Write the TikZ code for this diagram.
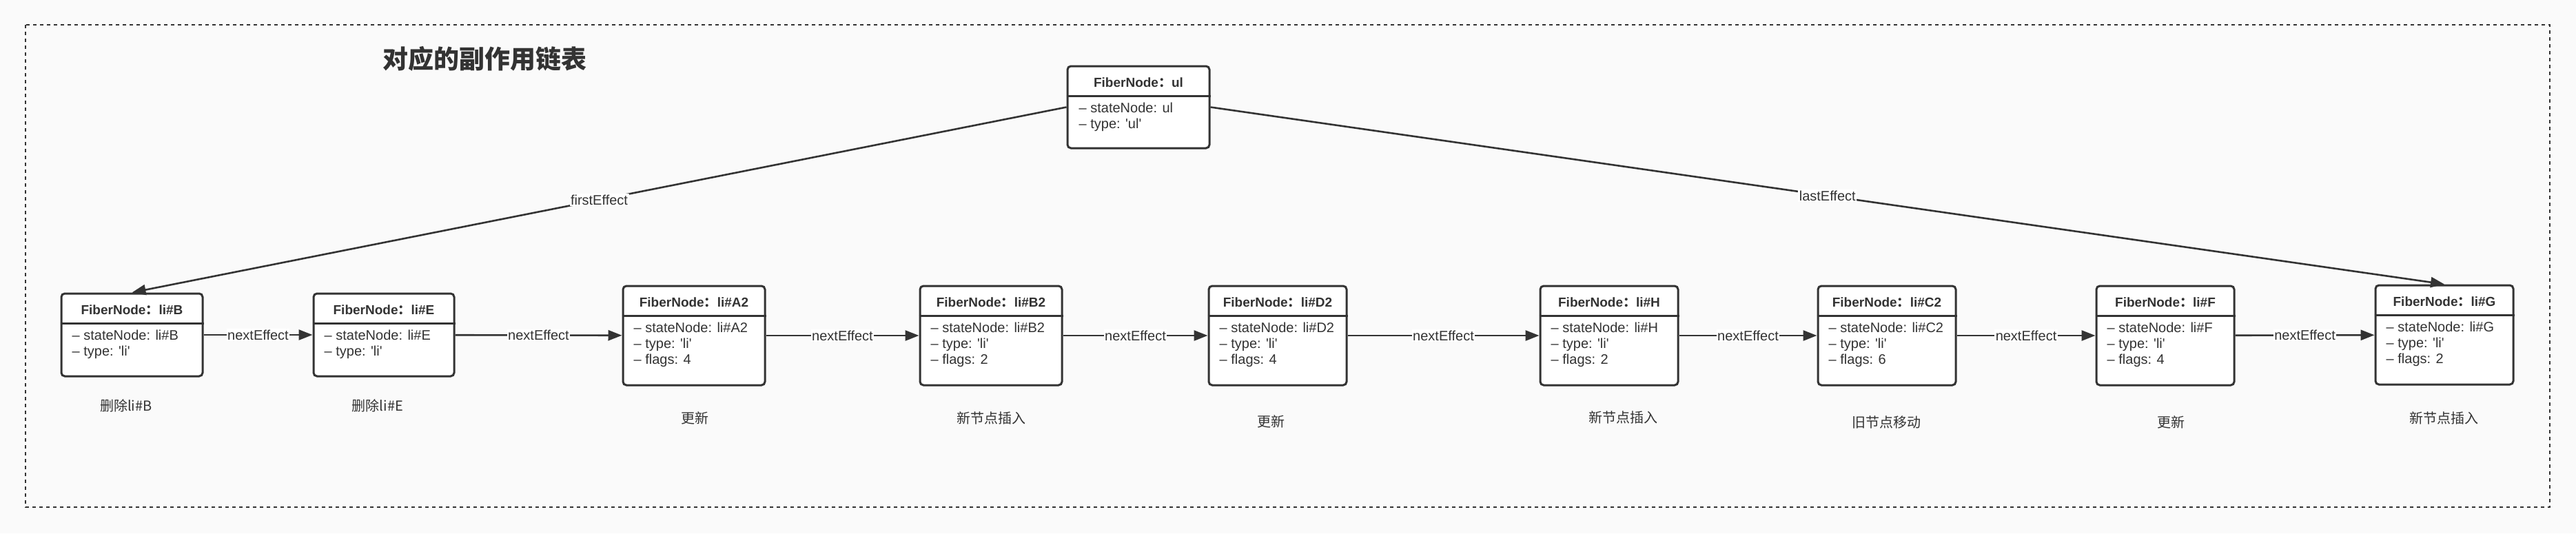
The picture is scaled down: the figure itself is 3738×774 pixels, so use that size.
\documentclass[tikz,border=0pt]{standalone}
\usepackage{fontspec}
\setmainfont{Liberation Sans}
\newfontfamily\cjk{Noto Sans CJK SC}
\usetikzlibrary{arrows.meta}
\definecolor{ink}{HTML}{333333}
\definecolor{paper}{HTML}{FAFAFA}
\def\q{\textquotesingle}

\begin{document}
\begin{tikzpicture}[x=1pt,y=-1pt,
	fiber/.style={draw=ink,line width=3pt,rounded corners=5pt,fill=white,inner sep=0pt},
	head/.style={text=ink,inner sep=0pt,font=\bfseries\fontsize{19}{23}\selectfont},
	fields/.style={text=ink,inner sep=0pt,align=left,font=\fontsize{20}{23}\selectfont},
	link/.style={draw=ink,line width=2.6pt,-{Triangle[length=20pt,width=15pt]}},
	tag/.style={fill=white,inner sep=1.5pt,text=ink,font=\fontsize{20}{24}\selectfont},
	note/.style={text=ink,inner sep=0pt,font=\cjk\fontsize{20}{24}\selectfont}]
\useasboundingbox (0,0) rectangle (3738,774);
\fill[paper] (0,0) rectangle (3738,774);
\draw[ink,line width=1.6pt,dash pattern=on 5pt off 5pt] (37,36) rectangle (3700,736);
\node[text=ink,font=\cjk\bfseries\fontsize{37}{40}\selectfont] (title) at (703,85) {对应的副作用链表};

% root fiber
\node[fiber,minimum width=206pt,minimum height=119pt] (ul) at (1652,155.5) {};
\draw[ink,line width=3pt] ([yshift=-45pt]ul.north west) -- ([yshift=-45pt]ul.north east);
\node[head,anchor=base] at ([yshift=-32pt]ul.north) {FiberNode{\cjk ：}ul};
\node[fields,anchor=north west] at ([xshift=18pt,yshift=-54pt]ul.north west)
	{– stateNode: ul\\– type: \q ul\q};

% effect list
\foreach \id/\cx/\cy/\w/\h/\ttl/\body in {
	liB/191.5/486/205/120/li\#B/{– stateNode: li\#B\\– type: \q li\q},
	liE/557/486/204/120/li\#E/{– stateNode: li\#E\\– type: \q li\q},
	liA2/1007/487/206/144/li\#A2/{– stateNode: li\#A2\\– type: \q li\q\\– flags: 4},
	liB2/1438/487/206/144/li\#B2/{– stateNode: li\#B2\\– type: \q li\q\\– flags: 2},
	liD2/1854/487/200/144/li\#D2/{– stateNode: li\#D2\\– type: \q li\q\\– flags: 4},
	liH/2335/487/200/144/li\#H/{– stateNode: li\#H\\– type: \q li\q\\– flags: 2},
	liC2/2738/487/200/144/li\#C2/{– stateNode: li\#C2\\– type: \q li\q\\– flags: 6},
	liF/3142/487/200/144/li\#F/{– stateNode: li\#F\\– type: \q li\q\\– flags: 4},
	liG/3547/486/200/144/li\#G/{– stateNode: li\#G\\– type: \q li\q\\– flags: 2}}{
	\node[fiber,minimum width=\w pt,minimum height=\h pt] (\id) at (\cx,\cy) {};
	\draw[ink,line width=3pt] ([yshift=-45pt]\id.north west) -- ([yshift=-45pt]\id.north east);
	\node[head,anchor=base] at ([yshift=-32pt]\id.north) {FiberNode{\cjk ：}\ttl};
	\node[fields,anchor=north west] at ([xshift=17pt,yshift=-54pt]\id.north west) {\body};
}

\foreach \id/\x/\y/\txt in {liB/183/589/删除li\#B,liE/548/589/删除li\#E,
	liA2/1008/607/更新,liB2/1438/607/新节点插入,liD2/1844/612/更新,
	liH/2355/606/新节点插入,liC2/2737/613/旧节点移动,liF/3150/613/更新,
	liG/3546/607/新节点插入}
	\node[note] (\id-note) at (\x,\y) {\txt};

\draw[link] (ul.west) -- node[tag] {firstEffect} (liB.north);
\draw[link] (ul.east) -- node[tag] {lastEffect} (liG.north);
\foreach \a/\b in {liB/liE,liE/liA2,liA2/liB2,liB2/liD2,liD2/liH,liH/liC2,liC2/liF,liF/liG}
	\draw[link] (\a) -- node[tag] {nextEffect} (\b);
\end{tikzpicture}
\end{document}
